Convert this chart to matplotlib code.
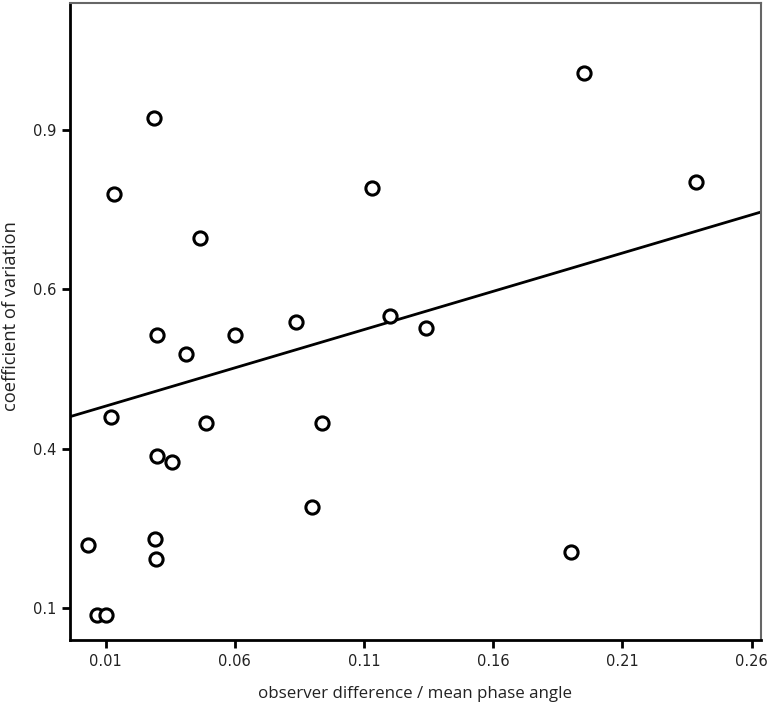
import numpy as np
import matplotlib
matplotlib.use('Agg')
import matplotlib.pyplot as plt

# observer difference / mean phase angle vs coefficient of variation
obs_diff = [0.0030, 0.0065, 0.0100, 0.0121, 0.0133, 0.0287, 0.0290, 0.0294,
            0.0300, 0.0299, 0.0357, 0.0412, 0.0465, 0.0489, 0.0600, 0.0835,
            0.0898, 0.0938, 0.1129, 0.1200, 0.1340, 0.1900, 0.1951, 0.2385]
coef_var = [0.199, 0.090, 0.090, 0.400, 0.749, 0.869, 0.209, 0.178,
            0.529, 0.339, 0.329, 0.499, 0.681, 0.390, 0.529, 0.549,
            0.259, 0.390, 0.759, 0.559, 0.539, 0.189, 0.939, 0.769]

# fit line as shown in the figure
fit_intercept = 0.405
fit_slope = 1.20

x_ticks = [0.01, 0.06, 0.11, 0.16, 0.21, 0.26]
y_ticks = [0.1, 0.35, 0.6, 0.85]
y_tick_labels = ['0.1', '0.4', '0.6', '0.9']

fig = plt.figure(figsize=(7.7, 7.09), dpi=100)
ax = fig.add_axes([70 / 770, 1 - 640 / 709, 691 / 770, 637 / 709])

xlim = (-0.0038, 0.2636)
ax.set_xlim(*xlim)
ax.set_ylim(0.0503, 1.049)

ax.plot(obs_diff, coef_var, 'o', ms=9.5, mfc='white', mec='black', mew=2.2, zorder=3)

lx = np.array(xlim)
ax.plot(lx, fit_intercept + fit_slope * lx, color='black', lw=2, zorder=2)

ax.set_xticks(x_ticks)
ax.set_xticklabels([f'{t:.2f}' for t in x_ticks])
ax.set_yticks(y_ticks)
ax.set_yticklabels(y_tick_labels)
ax.tick_params(direction='out', length=6, width=2, labelsize=10.5, colors='black', pad=4)
for lab in ax.get_xticklabels() + ax.get_yticklabels():
    lab.set_color('#222222')

for side in ['left', 'bottom']:
    ax.spines[side].set_linewidth(2)
    ax.spines[side].set_color('black')
for side in ['top', 'right']:
    ax.spines[side].set_linewidth(1.5)
    ax.spines[side].set_color('#666666')

ax.set_xlabel('observer difference / mean phase angle', fontsize=12.2,
              family='Open Sans', labelpad=12, color='#222222')
ax.set_ylabel('coefficient of variation', fontsize=13.2,
              family='Open Sans', color='#222222')
ax.yaxis.set_label_coords(-0.072, 0.509)

fig.savefig('out.png', dpi=100)
